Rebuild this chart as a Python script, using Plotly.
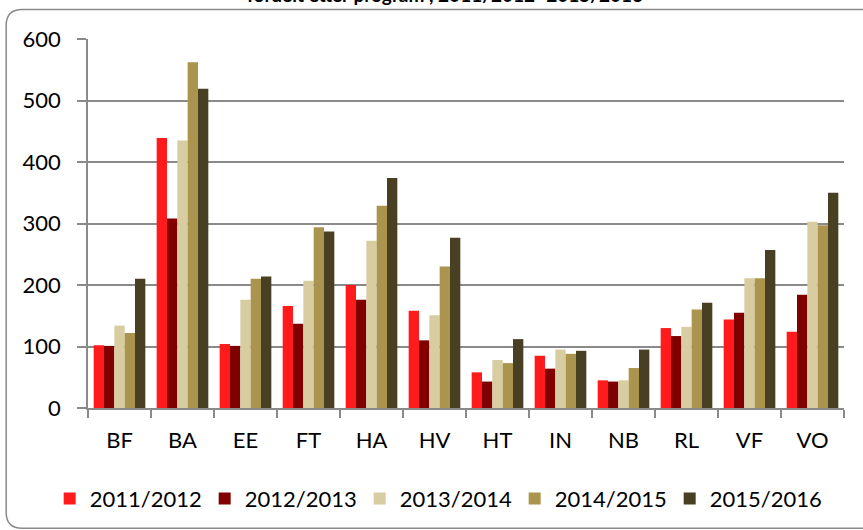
import plotly.graph_objects as go

categories = ["BF", "BA", "EE", "FT", "HA", "HV", "HT", "IN", "NB", "RL", "VF", "VO"]
series_names = ["2011/2012", "2012/2013", "2013/2014", "2014/2015", "2015/2016"]
v2011 = [102, 439, 104, 166, 200, 158, 58, 85, 45, 130, 144, 124]
v2012 = [101, 308, 101, 137, 176, 110, 43, 64, 43, 117, 155, 184]
v2013 = [134, 435, 176, 207, 272, 151, 78, 95, 45, 132, 211, 303]
v2014 = [122, 562, 210, 294, 329, 230, 73, 88, 65, 160, 211, 297]
v2015 = [210, 519, 214, 287, 374, 277, 112, 93, 95, 171, 257, 350]
colors = ["#FF1B1B", "#800000", "#D8CCA1", "#AB944E", "#493F22"]
title_text = "fordelt etter program , 2011/2012–2015/2016"

W, H = 863, 530
L, R, T, B = 88.3, 844.0, 39.3, 408.3
FONT = "Lato, 'Open Sans', sans-serif"

fig = go.Figure()
for name, vals, col in zip(series_names, [v2011, v2012, v2013, v2014, v2015], colors):
    fig.add_trace(go.Bar(x=categories, y=vals, name=name, marker=dict(color=col, line=dict(width=0))))

def px_x(p):
    return (p - L) / (R - L)

def px_y(p):
    return (B - p) / (B - T)

# rounded outer border (in pixel coords converted to paper)
x0, x1, y0, y1, r = 6.5, 880.0, 9.7, 528.5, 16.0
path = (
    f"M {px_x(x1)},{px_y(y0)} "
    f"L {px_x(x0 + r)},{px_y(y0)} "
    f"Q {px_x(x0)},{px_y(y0)} {px_x(x0)},{px_y(y0 + r)} "
    f"L {px_x(x0)},{px_y(y1 - r)} "
    f"Q {px_x(x0)},{px_y(y1)} {px_x(x0 + r)},{px_y(y1)} "
    f"L {px_x(x1)},{px_y(y1)}"
)
fig.add_shape(type="path", path=path, xref="paper", yref="paper",
              line=dict(color="#8a8a8a", width=1.5), layer="below")

fig.add_annotation(text=f"<b>{title_text}</b>", xref="paper", yref="paper",
                   x=px_x(445), y=px_y(8.0), xanchor="center", yanchor="bottom",
                   showarrow=False, font=dict(family=FONT, size=19, color="#000"))

fig.update_layout(
    width=W, height=H,
    margin=dict(l=L, r=W - R, t=T, b=H - B, pad=0, autoexpand=False),
    paper_bgcolor="white", plot_bgcolor="white",
    barmode="group", bargap=0.18, bargroupgap=0,
    font=dict(family=FONT, size=22, color="#000"),
    showlegend=True,
    legend=dict(orientation="h", xref="paper", yref="paper",
                x=px_x(50), xanchor="left", y=px_y(499), yanchor="middle",
                entrywidth=110, entrywidthmode="pixels",
                font=dict(family=FONT, size=22, color="#000"),
                bgcolor="rgba(0,0,0,0)", traceorder="normal"),
)
fig.update_yaxes(range=[0, 600], dtick=100, showgrid=True, gridcolor="#8a8a8a", gridwidth=1.5,
                 showline=True, linecolor="#8a8a8a", linewidth=1.5,
                 ticks="outside", ticklen=9, tickcolor="#8a8a8a", tickwidth=1.5,
                 ticklabelstandoff=12, zeroline=False,
                 tickfont=dict(family=FONT, size=22, color="#000"))
fig.update_xaxes(showline=True, linecolor="#8a8a8a", linewidth=1.5,
                 ticks="outside", ticklen=8, tickcolor="#8a8a8a", tickwidth=1.5,
                 tickson="boundaries", ticklabelstandoff=12,
                 tickfont=dict(family=FONT, size=22, color="#000"))

fig.write_html("out.html", config={"displayModeBar": False},
               post_script="document.body.style.margin='0';")
